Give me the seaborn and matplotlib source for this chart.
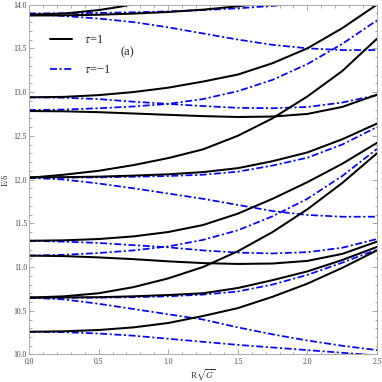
import numpy as np
import pandas as pd
import matplotlib
matplotlib.use("Agg")
import matplotlib.pyplot as plt
import seaborn as sns
from matplotlib.lines import Line2D
from matplotlib.ticker import MultipleLocator, FormatStrFormatter

# x grid used for most curves (R*sqrt(G))
x_grid = [0, 0.25, 0.5, 0.75, 1.0, 1.25, 1.5, 1.75, 2.0, 2.25, 2.5]

# tau = 1 (black solid)
xA = [0, 0.25, 0.5, 0.65, 0.8]
eA = [13.885, 13.898, 13.937, 13.974, 14.02]
xB = [0, 0.25, 0.5, 0.75, 1.0, 1.25, 1.5, 1.75]
eB = [13.875, 13.877, 13.884, 13.897, 13.915, 13.942, 13.98, 14.03]
eE = [12.94, 12.945, 12.965, 13.00, 13.05, 13.12, 13.20, 13.33, 13.50, 13.73, 14.0]
eH = [12.783, 12.78, 12.77, 12.755, 12.74, 12.725, 12.715, 12.72, 12.75, 12.83, 12.97]
eI = [12.02, 12.055, 12.10, 12.165, 12.245, 12.345, 12.50, 12.70, 12.95, 13.24, 13.61]
eJ = [12.025, 12.027, 12.033, 12.045, 12.06, 12.085, 12.13, 12.21, 12.31, 12.46, 12.64]
eM = [11.30, 11.305, 11.32, 11.35, 11.40, 11.48, 11.61, 11.78, 11.97, 12.18, 12.42]
eO = [11.13, 11.125, 11.11, 11.09, 11.065, 11.045, 11.035, 11.04, 11.07, 11.15, 11.29]
eQ = [10.65, 10.665, 10.70, 10.77, 10.87, 11.00, 11.18, 11.40, 11.66, 11.96, 12.30]
eR = [10.65, 10.652, 10.655, 10.665, 10.68, 10.70, 10.76, 10.85, 10.95, 11.08, 11.23]
eU = [10.26, 10.265, 10.28, 10.31, 10.36, 10.44, 10.53, 10.66, 10.81, 10.99, 11.19]

# tau = -1 (blue dash-dot)
xC = [0, 0.25, 0.5, 0.75, 1.0, 1.25, 1.5, 1.75, 2.0]
eC = [13.90, 13.90, 13.905, 13.912, 13.922, 13.937, 13.957, 13.985, 14.02]
eD = [13.89, 13.87, 13.84, 13.80, 13.74, 13.67, 13.60, 13.54, 13.50, 13.48, 13.48]
eF = [12.795, 12.80, 12.815, 12.835, 12.865, 12.92, 13.01, 13.14, 13.32, 13.55, 13.82]
eG = [12.94, 12.935, 12.92, 12.89, 12.865, 12.84, 12.82, 12.815, 12.83, 12.88, 12.965]
eL = [12.02, 12.022, 12.025, 12.032, 12.04, 12.055, 12.09, 12.16, 12.25, 12.40, 12.60]
eK = [12.02, 12.00, 11.955, 11.90, 11.84, 11.78, 11.71, 11.64, 11.595, 11.575, 11.575]
eN = [11.30, 11.29, 11.275, 11.25, 11.225, 11.19, 11.165, 11.155, 11.17, 11.22, 11.32]
eP = [11.13, 11.14, 11.16, 11.19, 11.235, 11.31, 11.42, 11.58, 11.78, 12.04, 12.35]
eS = [10.65, 10.65, 10.65, 10.655, 10.665, 10.685, 10.72, 10.80, 10.91, 11.05, 11.20]
eT = [10.65, 10.63, 10.58, 10.52, 10.46, 10.40, 10.31, 10.23, 10.16, 10.10, 10.05]
eV = [10.26, 10.255, 10.24, 10.215, 10.18, 10.145, 10.11, 10.08, 10.05, 10.02, 9.99]

black_curves = {"A": (xA, eA), "B": (xB, eB), "E": (x_grid, eE), "H": (x_grid, eH),
                "I": (x_grid, eI), "J": (x_grid, eJ), "M": (x_grid, eM), "O": (x_grid, eO),
                "Q": (x_grid, eQ), "R": (x_grid, eR), "U": (x_grid, eU)}
blue_curves = {"C": (xC, eC), "D": (x_grid, eD), "F": (x_grid, eF), "G": (x_grid, eG),
               "L": (x_grid, eL), "K": (x_grid, eK), "N": (x_grid, eN), "P": (x_grid, eP),
               "S": (x_grid, eS), "T": (x_grid, eT), "V": (x_grid, eV)}


def to_frame(curves):
    rows = []
    for name, (xs, es) in curves.items():
        for xv, ev in zip(xs, es):
            rows.append({"x": xv, "E": ev, "curve": name})
    return pd.DataFrame(rows)


black_df = to_frame(black_curves)
blue_df = to_frame(blue_curves)

sns.set_style("ticks")
plt.rcParams['font.family'] = ['Liberation Serif', 'DejaVu Serif']
plt.rcParams['mathtext.fontset'] = 'stix'

fig = plt.figure(figsize=(3.82, 3.82), dpi=100)
ax = fig.add_axes([0.0759, 0.072, 0.911, 0.916])

blue_ls = (0, (4, 1.5, 1.2, 1.5))
sns.lineplot(data=blue_df, x="x", y="E", units="curve", estimator=None, color="#0000ff",
             linewidth=1.25, linestyle=blue_ls, ax=ax, legend=False)
sns.lineplot(data=black_df, x="x", y="E", units="curve", estimator=None, color="black",
             linewidth=1.45, ax=ax, legend=False)

ax.set_xlim(0, 2.5)
ax.set_ylim(10.0, 14.0)
ax.xaxis.set_major_locator(MultipleLocator(0.5))
ax.xaxis.set_minor_locator(MultipleLocator(0.1))
ax.yaxis.set_major_locator(MultipleLocator(0.5))
ax.yaxis.set_minor_locator(MultipleLocator(0.1))
ax.xaxis.set_major_formatter(FormatStrFormatter('%.1f'))
ax.yaxis.set_major_formatter(FormatStrFormatter('%.1f'))
ax.tick_params(which='both', direction='in', top=True, right=True, color='#999999',
               labelsize=5.5, labelcolor='#444444', width=0.6)
ax.tick_params(which='major', length=3.5)
ax.tick_params(which='minor', length=1.8)
ax.tick_params(axis='y', pad=1.5)
ax.tick_params(axis='x', pad=2.5)
for sp in ax.spines.values():
    sp.set_color('#aaaaaa')
    sp.set_linewidth(0.7)

ax.set_xlabel(r"R$\sqrt{G}$", fontsize=6.5, color='#333333', labelpad=1)
ax.set_ylabel("E/δ", fontsize=6.5, color='#333333', labelpad=3)

handles = [Line2D([0], [0], color='black', lw=1.45),
           Line2D([0], [0], color='#0000ff', lw=1.25, linestyle=blue_ls)]
ax.legend(handles, [r"$\tau$=1", r"$\tau$=−1"], loc='upper left', bbox_to_anchor=(0.06, 0.915),
          frameon=False, fontsize=9, handlelength=1.8, handletextpad=0.9, labelspacing=1.45,
          borderaxespad=0, borderpad=0)
ax.text(0.283, 0.864, "(a)", transform=ax.transAxes, fontsize=9, ha='center', va='center')

fig.savefig("out.png", dpi=100)
plt.close()
